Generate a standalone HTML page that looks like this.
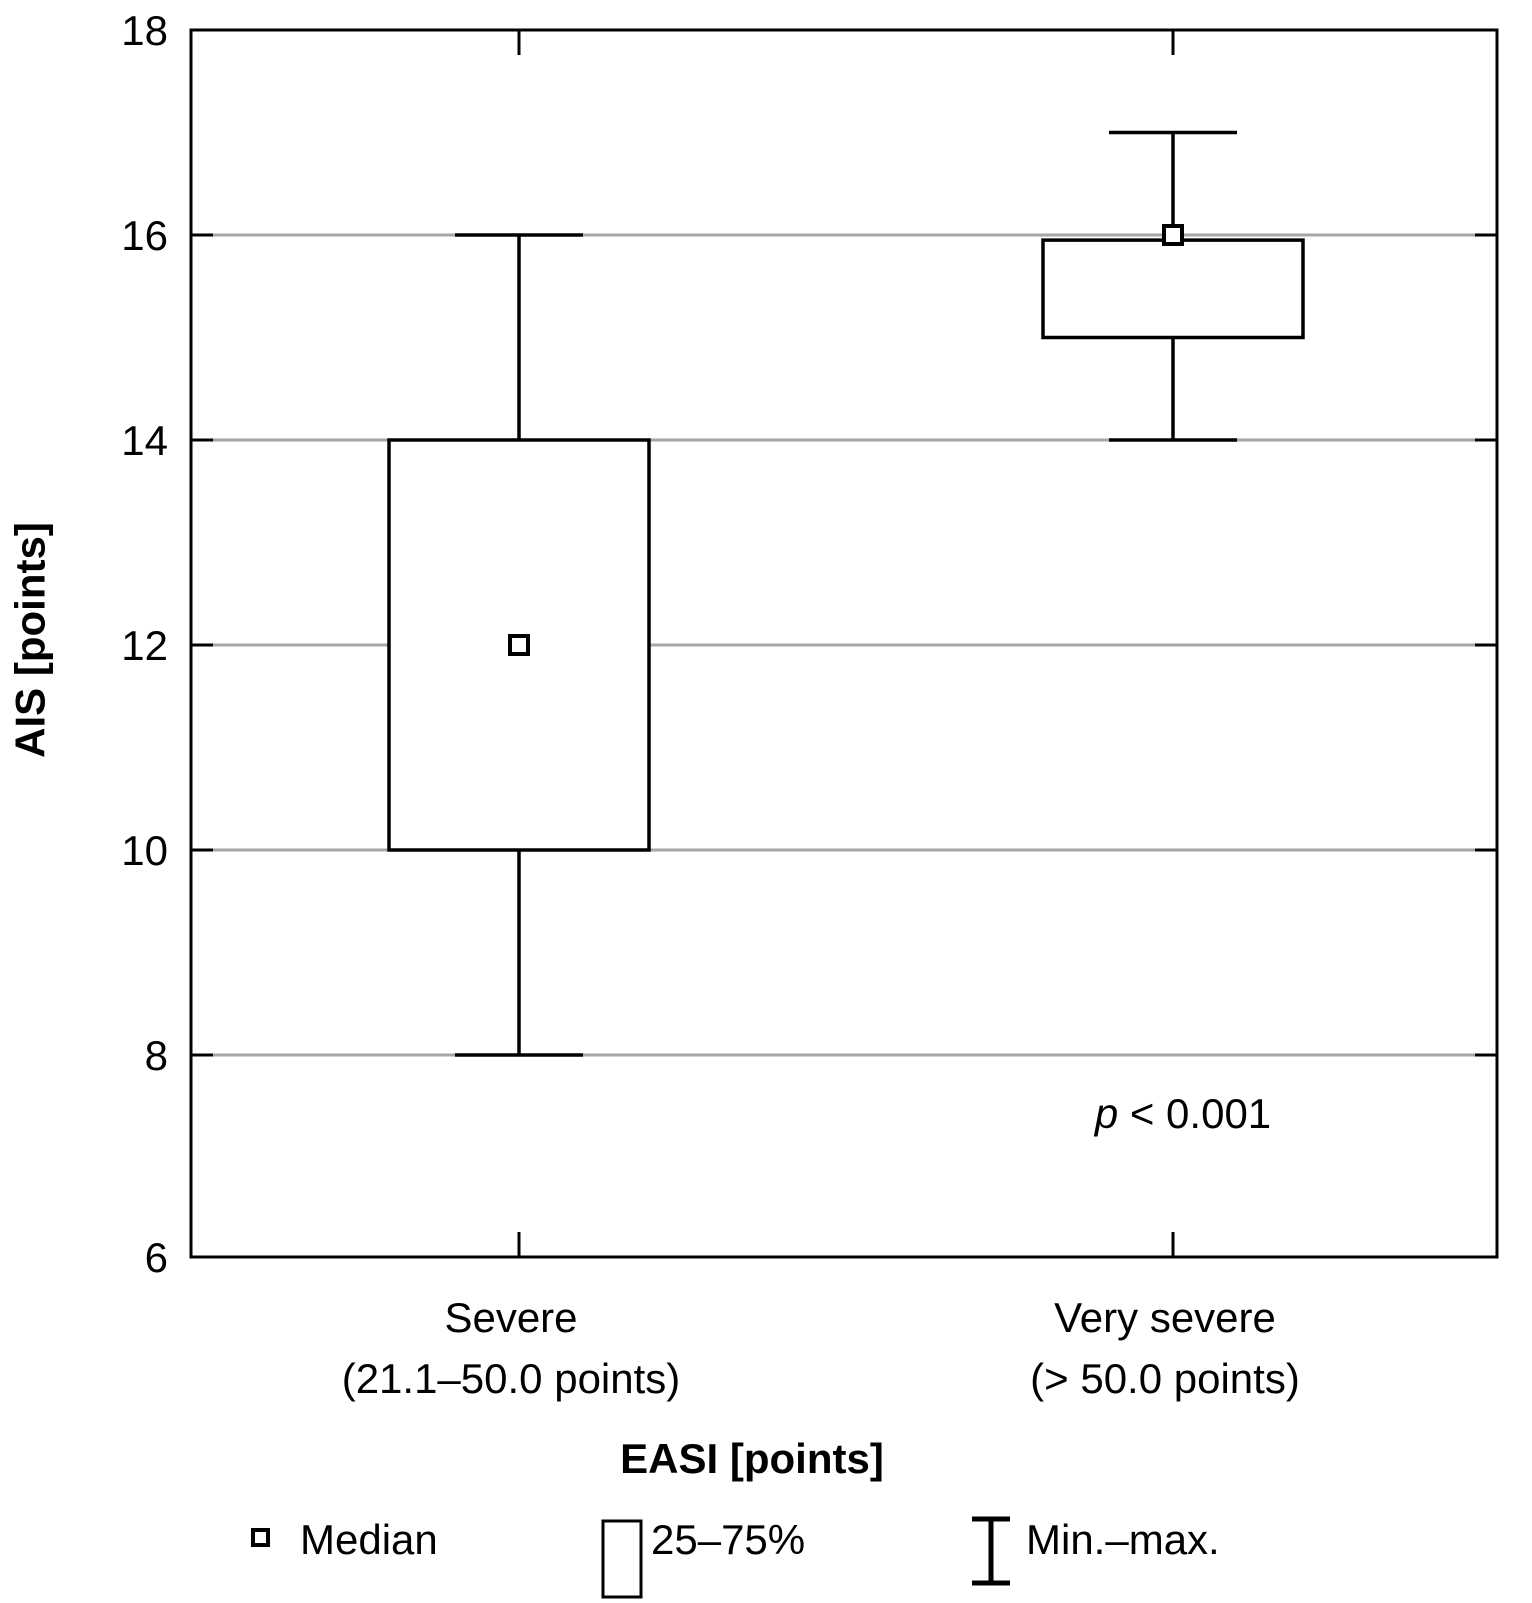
<!DOCTYPE html>
<html><head><meta charset="utf-8"><style>
html,body{margin:0;padding:0;background:#fff;}
svg{display:block;font-family:"Liberation Sans",sans-serif;}
</style></head><body>
<svg id="chart" width="1532" height="1603" viewBox="0 0 1532 1603">
<g id="grid"></g>
<g id="axes"></g>
<g id="boxes"></g>
<text x="30" y="640" transform="rotate(-90 30 640)" text-anchor="middle" dominant-baseline="central" font-size="42" font-weight="bold">AIS [points]</text>
<text x="752" y="1473" text-anchor="middle" font-size="42" font-weight="bold">EASI [points]</text>
<text x="1183" y="1128" text-anchor="middle" font-size="42"><tspan font-style="italic">p</tspan> &lt; 0.001</text>
<g>
<g>
<rect x="253" y="1530" width="15" height="15" fill="#fff" stroke="#000" stroke-width="4"/>
<text x="300" y="1554" font-size="42">Median</text></g>
<g>
<rect x="603" y="1521" width="38" height="76" fill="#fff" stroke="#000" stroke-width="3"/>
<text x="651" y="1554" font-size="42">25–75%</text></g>
<g>
<path d="M972 1519H1010M991 1519V1583M972 1583H1010" stroke="#000" stroke-width="5" fill="none"/>
<text x="1026" y="1554" font-size="42">Min.–max.</text></g>
</g>
</svg>
<script>
const categories = ["Severe", "Very severe"];
const subLabels = ["(21.1–50.0 points)", "(> 50.0 points)"];
const mins = [8, 14];
const q1s = [10, 15];
const medians = [12, 16];
const q3s = [14, 15.95];
const maxs = [16, 17];
const yTicks = [6, 8, 10, 12, 14, 16, 18];

const NS = "http://www.w3.org/2000/svg";
const L = 191, R = 1497, T = 30, B = 1257;
const y = v => 1260 - (v - 6) * 102.5;
const x = i => [519, 1173][i];
function mk(tag, attrs, parent) {
  const e = document.createElementNS(NS, tag);
  for (const k in attrs) e.setAttribute(k, attrs[k]);
  parent.appendChild(e); return e;
}
const grid = document.getElementById("grid"), axes = document.getElementById("axes"), boxes = document.getElementById("boxes");
yTicks.forEach(t => {
  const yy = y(t);
  if (t > 6 && t < 18) {
    const g = mk("line", {x1: L, x2: R, y1: yy, y2: yy, stroke: "#a6a6a6", "stroke-width": 3}, grid);
    
    
    mk("line", {x1: L, x2: L + 22, y1: yy, y2: yy, stroke: "#000", "stroke-width": 3}, axes);
    mk("line", {x1: R - 22, x2: R, y1: yy, y2: yy, stroke: "#000", "stroke-width": 3}, axes);
  }
  const lab = mk("text", {x: 168, y: Math.min(Math.max(yy, T), B) + 15, "text-anchor": "end", "font-size": 42}, axes);
  lab.textContent = t;
  
  
});
const frame = mk("rect", {x: L, y: T, width: R - L, height: B - T, fill: "none", stroke: "#000", "stroke-width": 3}, axes);


categories.forEach((c, i) => {
  const cx = x(i);
  mk("line", {x1: cx, x2: cx, y1: B - 25, y2: B, stroke: "#000", "stroke-width": 3}, axes);
  mk("line", {x1: cx, x2: cx, y1: T, y2: T + 25, stroke: "#000", "stroke-width": 3}, axes);
  const l1 = mk("text", {x: cx - 8, y: 1332, "text-anchor": "middle", "font-size": 42}, axes);
  l1.textContent = c;
  
  
  const l2 = mk("text", {x: cx - 8, y: 1393, "text-anchor": "middle", "font-size": 42}, axes);
  l2.textContent = subLabels[i];
  
  
  const g = mk("g", {}, boxes);
  
  
  const st = {stroke: "#000", "stroke-width": 3.5, fill: "none"};
  mk("line", Object.assign({x1: cx, x2: cx, y1: y(maxs[i]), y2: y(q3s[i])}, st), g);
  mk("line", Object.assign({x1: cx, x2: cx, y1: y(q1s[i]), y2: y(mins[i])}, st), g);
  mk("line", Object.assign({x1: cx - 64, x2: cx + 64, y1: y(maxs[i]), y2: y(maxs[i])}, st), g);
  mk("line", Object.assign({x1: cx - 64, x2: cx + 64, y1: y(mins[i]), y2: y(mins[i])}, st), g);
  mk("rect", {x: cx - 130, y: y(q3s[i]), width: 260, height: y(q1s[i]) - y(q3s[i]), fill: "#fff", stroke: "#000", "stroke-width": 3.5}, g);
  const m = mk("rect", {x: cx - 9, y: y(medians[i]) - 9, width: 18, height: 18, fill: "#fff", stroke: "#000", "stroke-width": 4}, g);
  
  
});
</script>
</body></html>
